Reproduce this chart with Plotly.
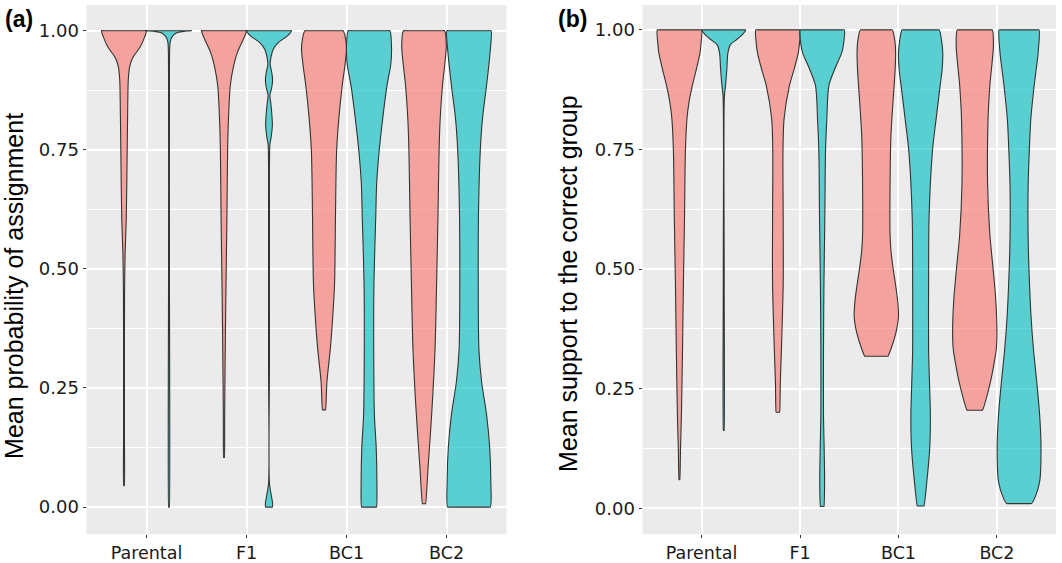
import plotly.graph_objects as go

# ---------------- data ----------------
CATEGORIES = ["Parental", "F1", "BC1", "BC2"]
CAT_POS = [1, 2, 3, 4]
Y_TICKS = [0.0, 0.25, 0.5, 0.75, 1.0]
Y_TICK_TEXT = ["0.00", "0.25", "0.50", "0.75", "1.00"]
GROUP_FILL = ["rgba(248,118,109,0.62)", "rgba(0,191,196,0.62)"]
PANEL_LABELS = ["(a)", "(b)"]
Y_TITLES = ["Mean probability of assignment", "Mean support to the correct group"]

# Violin outlines: y level and relative half-width (1 = widest violin)
# Panel (a)
A_PAR_1_Y = [1.0, 0.986, 0.965, 0.944, 0.924, 0.896, 0.82, 0.743, 0.604, 0.535, 0.45, 0.3, 0.15, 0.045]
A_PAR_1_W = [1.0, 0.91, 0.71, 0.40, 0.25, 0.19, 0.16, 0.14, 0.10, 0.05, 0.025, 0.02, 0.02, 0.02]
A_PAR_2_Y = [1.0, 0.998, 0.996, 0.991, 0.984, 0.974, 0.9, 0.5, 0.0]
A_PAR_2_W = [1.0, 0.6, 0.37, 0.21, 0.10, 0.045, 0.02, 0.02, 0.02]
A_F1_1_Y = [1.0, 0.982, 0.955, 0.92, 0.885, 0.816, 0.747, 0.609, 0.47, 0.332, 0.194, 0.104]
A_F1_1_W = [1.0, 0.86, 0.60, 0.40, 0.28, 0.20, 0.16, 0.13, 0.09, 0.055, 0.03, 0.02]
A_F1_2_Y = [1.0, 0.989, 0.975, 0.961, 0.947, 0.930, 0.913, 0.896, 0.878, 0.865, 0.844,
            0.802, 0.775, 0.761, 0.6, 0.3, 0.05, 0.025, 0.008, 0.0]
A_F1_2_W = [1.0, 0.82, 0.41, 0.19, 0.10, 0.05, 0.12, 0.16, 0.11, 0.04, 0.09,
            0.15, 0.09, 0.04, 0.02, 0.02, 0.02, 0.10, 0.16, 0.15]
A_BC1_1_Y = [1.0, 0.982, 0.961, 0.92, 0.885, 0.816, 0.747, 0.609, 0.47, 0.401, 0.332, 0.263, 0.204]
A_BC1_1_W = [0.85, 0.96, 1.0, 0.91, 0.81, 0.66, 0.56, 0.51, 0.47, 0.39, 0.28, 0.13, 0.07]
A_BC1_2_Y = [1.0, 0.968, 0.93, 0.885, 0.816, 0.747, 0.678, 0.609, 0.47, 0.332, 0.194, 0.125, 0.055, 0.0]
A_BC1_2_W = [0.93, 1.0, 0.97, 0.80, 0.61, 0.45, 0.34, 0.30, 0.22, 0.21, 0.24, 0.32, 0.35, 0.33]
A_BC2_1_Y = [1.0, 0.968, 0.92, 0.885, 0.816, 0.747, 0.609, 0.47, 0.332, 0.194, 0.09, 0.007]
A_BC2_1_W = [0.91, 0.99, 0.90, 0.82, 0.72, 0.67, 0.62, 0.56, 0.49, 0.34, 0.19, 0.07]
A_BC2_2_Y = [1.0, 0.951, 0.885, 0.816, 0.747, 0.609, 0.47, 0.332, 0.263, 0.194, 0.125, 0.055, 0.0]
A_BC2_2_W = [0.98, 0.93, 0.78, 0.60, 0.50, 0.42, 0.41, 0.44, 0.56, 0.78, 0.92, 0.97, 0.95]

# Panel (b)
B_PAR_1_Y = [1.0, 0.969, 0.952, 0.917, 0.883, 0.848, 0.814, 0.745, 0.607, 0.47, 0.332, 0.194, 0.125, 0.06]
B_PAR_1_W = [1.0, 0.97, 0.93, 0.76, 0.58, 0.43, 0.34, 0.27, 0.23, 0.18, 0.14, 0.09, 0.05, 0.02]
B_PAR_2_Y = [1.0, 0.99, 0.979, 0.969, 0.952, 0.917, 0.883, 0.862, 0.5, 0.163]
B_PAR_2_W = [1.0, 0.84, 0.57, 0.30, 0.19, 0.14, 0.08, 0.03, 0.02, 0.02]
B_F1_1_Y = [1.0, 0.969, 0.952, 0.917, 0.883, 0.814, 0.745, 0.607, 0.47, 0.332, 0.263, 0.201]
B_F1_1_W = [1.0, 0.97, 0.92, 0.73, 0.52, 0.28, 0.23, 0.24, 0.24, 0.16, 0.11, 0.08]
B_F1_2_Y = [1.0, 0.969, 0.952, 0.917, 0.883, 0.814, 0.745, 0.607, 0.47, 0.332, 0.194, 0.125, 0.056, 0.004]
B_F1_2_W = [1.0, 0.96, 0.88, 0.56, 0.30, 0.21, 0.15, 0.12, 0.08, 0.06, 0.06, 0.09, 0.11, 0.08]
B_BC1_1_Y = [1.0, 0.976, 0.952, 0.917, 0.848, 0.779, 0.676, 0.573, 0.539, 0.504, 0.470,
             0.435, 0.401, 0.366, 0.332, 0.318]
B_BC1_1_W = [0.72, 0.84, 0.87, 0.85, 0.75, 0.66, 0.62, 0.62, 0.66, 0.75, 0.86,
             0.96, 1.0, 0.88, 0.65, 0.52]
B_BC1_2_Y = [1.0, 0.976, 0.952, 0.917, 0.883, 0.814, 0.745, 0.607, 0.47, 0.332, 0.263,
             0.194, 0.125, 0.056, 0.005]
B_BC1_2_W = [0.84, 0.95, 1.0, 0.97, 0.88, 0.70, 0.53, 0.38, 0.36, 0.36, 0.40,
             0.44, 0.41, 0.28, 0.15]
B_BC2_1_Y = [1.0, 0.966, 0.883, 0.814, 0.676, 0.573, 0.504, 0.435, 0.366, 0.332, 0.298, 0.263, 0.205]
B_BC2_1_W = [0.79, 0.84, 0.68, 0.60, 0.58, 0.68, 0.82, 0.95, 1.0, 0.97, 0.85, 0.70, 0.34]
B_BC2_2_Y = [1.0, 0.952, 0.883, 0.814, 0.745, 0.676, 0.607, 0.539, 0.47, 0.401, 0.332,
             0.263, 0.194, 0.125, 0.056, 0.021, 0.01]
B_BC2_2_W = [0.9, 0.86, 0.68, 0.53, 0.46, 0.41, 0.40, 0.42, 0.47, 0.54, 0.65,
             0.80, 0.93, 0.99, 0.93, 0.70, 0.55]

PANEL_A = [(A_PAR_1_Y, A_PAR_1_W), (A_PAR_2_Y, A_PAR_2_W),
           (A_F1_1_Y, A_F1_1_W), (A_F1_2_Y, A_F1_2_W),
           (A_BC1_1_Y, A_BC1_1_W), (A_BC1_2_Y, A_BC1_2_W),
           (A_BC2_1_Y, A_BC2_1_W), (A_BC2_2_Y, A_BC2_2_W)]
PANEL_B = [(B_PAR_1_Y, B_PAR_1_W), (B_PAR_2_Y, B_PAR_2_W),
           (B_F1_1_Y, B_F1_1_W), (B_F1_2_Y, B_F1_2_W),
           (B_BC1_1_Y, B_BC1_1_W), (B_BC1_2_Y, B_BC1_2_W),
           (B_BC2_1_Y, B_BC2_1_W), (B_BC2_2_Y, B_BC2_2_W)]

# ---------------- styling ----------------
W, H = 1062, 563
DODGE = 0.225        # offset of each group's violin from the category
MAX_HALF = 0.225     # half-width of the widest violin (x units)
OUTLINE = "#333333"
EDGE_KEEP = 0.92     # keeps flat trimmed ends straight under spline smoothing

fig = go.Figure()


def add_violin(center, ys, ws, fill, xa, ya):
    top_y, top_w = ys[0], ws[0]
    bot_y, bot_w = ys[-1], ws[-1]
    # right side bottom->top
    xs = [center + EDGE_KEEP * bot_w * MAX_HALF]
    yy = [bot_y]
    xs += [center + w * MAX_HALF for w in reversed(ws)]
    yy += list(reversed(ys))
    # flat top edge
    xs += [center + EDGE_KEEP * top_w * MAX_HALF, center - EDGE_KEEP * top_w * MAX_HALF]
    yy += [top_y, top_y]
    # left side top->bottom
    xs += [center - w * MAX_HALF for w in ws]
    yy += list(ys)
    # flat bottom edge, then close
    xs += [center - EDGE_KEEP * bot_w * MAX_HALF, xs[0]]
    yy += [bot_y, yy[0]]
    fig.add_trace(go.Scatter(
        x=xs, y=yy, mode="lines", fill="toself", fillcolor=fill,
        line=dict(color=OUTLINE, width=1.1, shape="spline", smoothing=0.8),
        xaxis=xa, yaxis=ya, hoverinfo="skip", showlegend=False))


for panel, (xa, ya) in zip([PANEL_A, PANEL_B], [("x", "y"), ("x2", "y2")]):
    for i, (ys, ws) in enumerate(panel):
        cat = CAT_POS[i // 2]
        grp = i % 2
        center = cat - DODGE if grp == 0 else cat + DODGE
        add_violin(center, ys, ws, GROUP_FILL[grp], xa, ya)

xtick_font = dict(family="DejaVu Sans", size=17.5, color="#1a1a1a")
ytick_font = dict(family="DejaVu Sans", size=18, color="#1a1a1a")


def xaxis_cfg(domain, anchor):
    return dict(domain=domain, anchor=anchor, range=[0.4, 4.6],
                tickmode="array", tickvals=CAT_POS, ticktext=CATEGORIES,
                showgrid=True, gridcolor="white", gridwidth=1.5,
                zeroline=False, showline=False,
                ticks="outside", ticklen=3, tickcolor="#333333", tickwidth=1,
                tickfont=xtick_font, fixedrange=True)


def yaxis_cfg(rng, anchor):
    return dict(domain=[1 - 540 / H, 1 - 5 / H], anchor=anchor, range=rng,
                tickmode="array", tickvals=Y_TICKS, ticktext=Y_TICK_TEXT,
                showgrid=True, gridcolor="white", gridwidth=1.5,
                minor=dict(tickmode="array", tickvals=[0.125, 0.375, 0.625, 0.875],
                           showgrid=True, gridcolor="white", gridwidth=0.7, ticks=""),
                zeroline=False, showline=False,
                ticks="outside", ticklen=3, tickcolor="#333333", tickwidth=1,
                tickfont=ytick_font, fixedrange=True)


annotations = [
    dict(text="<b>" + PANEL_LABELS[0] + "</b>", x=19 / W, y=1 - 19 / H, xref="paper", yref="paper",
         showarrow=False, font=dict(family="Liberation Sans", size=23, color="black"),
         xanchor="center", yanchor="middle"),
    dict(text="<b>" + PANEL_LABELS[1] + "</b>", x=572 / W, y=1 - 19 / H, xref="paper", yref="paper",
         showarrow=False, font=dict(family="Liberation Sans", size=23, color="black"),
         xanchor="center", yanchor="middle"),
    dict(text=Y_TITLES[0], x=14 / W, y=1 - 289 / H, xref="paper", yref="paper",
         showarrow=False, textangle=-90,
         font=dict(family="Liberation Sans", size=25, color="black"),
         xanchor="center", yanchor="middle"),
    dict(text=Y_TITLES[1], x=568 / W, y=1 - 287 / H, xref="paper", yref="paper",
         showarrow=False, textangle=-90,
         font=dict(family="Liberation Sans", size=25, color="black"),
         xanchor="center", yanchor="middle"),
]

fig.update_layout(
    width=W, height=H, autosize=False,
    margin=dict(l=0, r=0, t=0, b=0),
    paper_bgcolor="white", plot_bgcolor="#EBEBEB",
    showlegend=False,
    xaxis=xaxis_cfg([86.5 / W, 506.5 / W], "y"),
    xaxis2=xaxis_cfg([642.5 / W, 1056 / W], "y2"),
    yaxis=yaxis_cfg([-0.057, 1.054], "x"),
    yaxis2=yaxis_cfg([-0.054, 1.052], "x2"),
    annotations=annotations,
)

fig.write_html("out.html")
